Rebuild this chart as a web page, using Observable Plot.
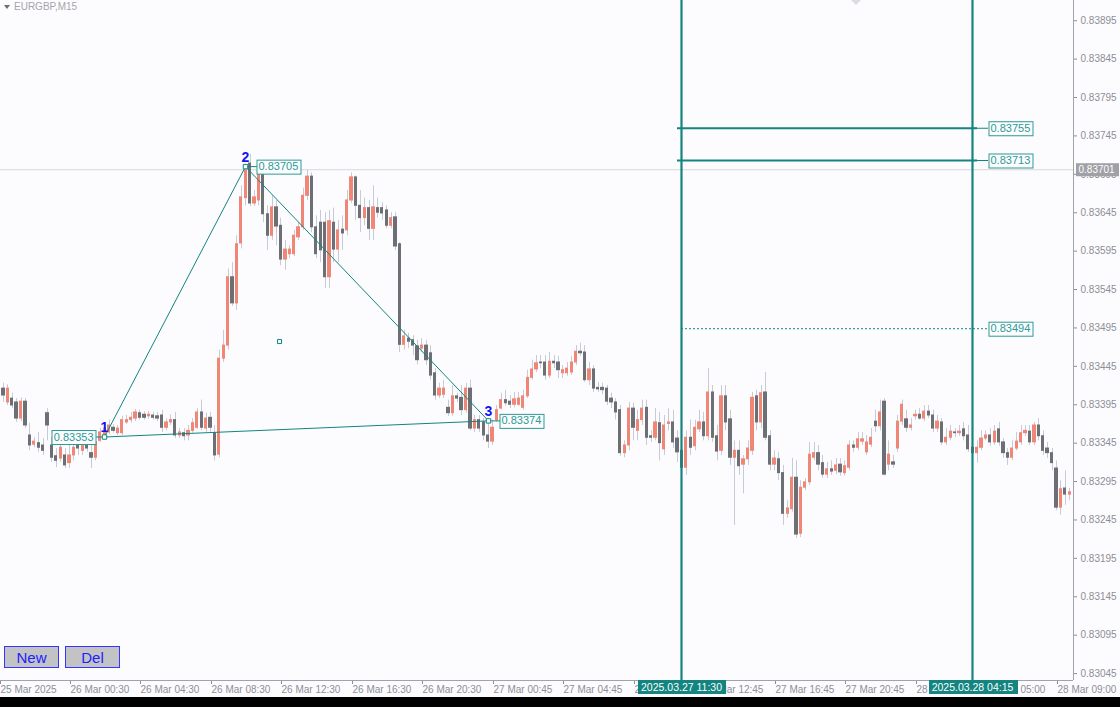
<!DOCTYPE html>
<html><head><meta charset="utf-8">
<script src="https://cdn.jsdelivr.net/npm/d3@7"></script>
<script src="https://cdn.jsdelivr.net/npm/@observablehq/plot@0.6"></script>
<style>
html,body{margin:0;padding:0;background:#000;width:1120px;height:707px;overflow:hidden}
#wrap{position:relative;width:1120px;height:697px;background:#fcfcfe}
#chart svg{display:block}
#title{position:absolute;left:4px;top:1px;font:10px "Liberation Sans",sans-serif;color:#a4a4ac;white-space:nowrap}
#title .tri{display:inline-block;width:0;height:0;border-left:3.5px solid transparent;border-right:3.5px solid transparent;border-top:4px solid #6c6c78;margin-right:4px;vertical-align:1px}
.btn{position:absolute;top:646px;height:20px;width:53px;background:#c3c3c6;border:1px solid #3535ff;color:#2020ff;font:15px "Liberation Sans",sans-serif;text-align:center;line-height:21px;box-sizing:content-box}
#topmark{position:absolute;left:851px;top:0;width:0;height:0;border-left:5px solid transparent;border-right:5px solid transparent;border-top:5px solid #dcdce4}
</style></head><body>
<div id="wrap">
  <div id="chart"></div>
  <div id="title"><span class="tri"></span><span id="sym"></span></div>
  <div class="btn" id="bNew" style="left:4px">New</div>
  <div class="btn" id="bDel" style="left:65px">Del</div>
  <div id="topmark"></div>
</div>
<script>
// ---------- data (M15 bars, index 0 = 26 Mar 00:30) ----------
const symbolName = "EURGBP,M15";
const buttonLabels = ["New", "Del"];
const firstBar = -15;
const open = [
0.83416,0.83398,0.83403,0.83398,0.83377,0.83399,0.83355,0.83343,0.83345,0.83342,
0.83384,0.83342,0.83328,0.83325,0.83329,0.83319,0.83329,0.83342,0.83335,0.83343,
0.83332,0.83326,0.83348,0.83355,0.83359,0.83365,0.83358,0.83358,0.83372,0.83375,
0.83377,0.83384,0.83382,0.83380,0.83381,0.83380,0.83381,0.83365,0.83372,0.83375,
0.83355,0.83358,0.83355,0.83361,0.83365,0.83385,0.83364,0.83378,0.83358,0.83330,
0.83455,0.83472,0.83561,0.83527,0.83605,0.83664,0.83709,0.83657,0.83661,0.83700,
0.83643,0.83615,0.83652,0.83628,0.83584,0.83591,0.83591,0.83613,0.83626,0.83667,
0.83692,0.83626,0.83632,0.83632,0.83561,0.83632,0.83597,0.83623,0.83622,0.83661,
0.83691,0.83654,0.83638,0.83651,0.83624,0.83651,0.83651,0.83648,0.83628,0.83639,
0.83604,0.83473,0.83481,0.83479,0.83471,0.83468,0.83472,0.83462,0.83436,0.83407,
0.83408,0.83391,0.83384,0.83406,0.83404,0.83388,0.83416,0.83364,0.83375,0.83372,
0.83355,0.83347,0.83375,0.83390,0.83401,0.83399,0.83395,0.83395,0.83391,0.83406,
0.83430,0.83441,0.83450,0.83450,0.83433,0.83451,0.83450,0.83436,0.83436,0.83437,
0.83450,0.83464,0.83463,0.83427,0.83441,0.83417,0.83417,0.83416,0.83403,0.83398,
0.83388,0.83332,0.83342,0.83390,0.83361,0.83375,0.83391,0.83354,0.83352,0.83371,
0.83337,0.83370,0.83372,0.83351,0.83335,0.83313,0.83352,0.83341,0.83363,0.83372,
0.83354,0.83411,0.83354,0.83335,0.83406,0.83376,0.83326,0.83335,0.83317,0.83324,
0.83335,0.83406,0.83372,0.83411,0.83354,0.83317,0.83324,0.83306,0.83253,0.83259,
0.83300,0.83227,0.83287,0.83294,0.83326,0.83332,0.83319,0.83304,0.83311,0.83309,
0.83317,0.83306,0.83313,0.83342,0.83339,0.83347,0.83333,0.83343,0.83373,0.83367,
0.83399,0.83317,0.83320,0.83338,0.83373,0.83376,0.83365,0.83380,0.83382,0.83377,
0.83386,0.83381,0.83364,0.83372,0.83346,0.83352,0.83359,0.83358,0.83363,0.83355,
0.83339,0.83332,0.83339,0.83351,0.83355,0.83346,0.83363,0.83346,0.83332,0.83326,
0.83338,0.83346,0.83358,0.83360,0.83346,0.83368,0.83354,0.83338,0.83332,0.83312,
0.83261,0.83286,0.83278];
const high = [
0.83423,0.83421,0.83410,0.83403,0.83404,0.83403,0.83371,0.83352,0.83359,0.83351,
0.83390,0.83352,0.83338,0.83348,0.83338,0.83342,0.83352,0.83348,0.83352,0.83348,
0.83348,0.83352,0.83364,0.83371,0.83375,0.83369,0.83368,0.83380,0.83381,0.83385,
0.83389,0.83388,0.83386,0.83386,0.83385,0.83385,0.83388,0.83377,0.83382,0.83385,
0.83364,0.83364,0.83368,0.83377,0.83390,0.83401,0.83384,0.83385,0.83368,0.83466,
0.83492,0.83572,0.83580,0.83615,0.83680,0.83705,0.83721,0.83674,0.83707,0.83703,
0.83654,0.83667,0.83661,0.83638,0.83609,0.83602,0.83622,0.83632,0.83677,0.83700,
0.83697,0.83641,0.83648,0.83645,0.83648,0.83651,0.83635,0.83641,0.83674,0.83697,
0.83693,0.83674,0.83664,0.83661,0.83680,0.83664,0.83658,0.83654,0.83645,0.83645,
0.83606,0.83492,0.83488,0.83485,0.83479,0.83481,0.83479,0.83472,0.83442,0.83423,
0.83427,0.83401,0.83420,0.83410,0.83420,0.83423,0.83427,0.83381,0.83381,0.83377,
0.83374,0.83375,0.83394,0.83410,0.83414,0.83407,0.83411,0.83411,0.83414,0.83440,
0.83453,0.83459,0.83459,0.83459,0.83463,0.83459,0.83458,0.83446,0.83450,0.83458,
0.83472,0.83475,0.83472,0.83450,0.83446,0.83424,0.83423,0.83420,0.83410,0.83403,
0.83394,0.83348,0.83398,0.83397,0.83388,0.83401,0.83401,0.83361,0.83390,0.83385,
0.83381,0.83390,0.83388,0.83361,0.83348,0.83361,0.83375,0.83375,0.83388,0.83385,
0.83442,0.83420,0.83368,0.83420,0.83420,0.83388,0.83348,0.83348,0.83329,0.83348,
0.83411,0.83414,0.83420,0.83437,0.83361,0.83335,0.83333,0.83316,0.83270,0.83325,
0.83322,0.83296,0.83299,0.83346,0.83346,0.83342,0.83329,0.83320,0.83322,0.83325,
0.83325,0.83322,0.83348,0.83348,0.83359,0.83359,0.83355,0.83364,0.83388,0.83401,
0.83403,0.83348,0.83329,0.83381,0.83401,0.83388,0.83377,0.83388,0.83390,0.83394,
0.83394,0.83388,0.83381,0.83377,0.83364,0.83368,0.83364,0.83368,0.83372,0.83368,
0.83348,0.83348,0.83361,0.83361,0.83364,0.83368,0.83372,0.83351,0.83338,0.83348,
0.83359,0.83368,0.83368,0.83368,0.83372,0.83377,0.83361,0.83346,0.83338,0.83322,
0.83296,0.83309,0.83286];
const low = [
0.83398,0.83394,0.83390,0.83372,0.83373,0.83364,0.83335,0.83339,0.83333,0.83329,
0.83348,0.83320,0.83313,0.83320,0.83312,0.83312,0.83322,0.83329,0.83329,0.83333,
0.83312,0.83322,0.83346,0.83353,0.83356,0.83358,0.83355,0.83355,0.83369,0.83371,
0.83373,0.83375,0.83375,0.83376,0.83375,0.83373,0.83359,0.83361,0.83368,0.83351,
0.83351,0.83348,0.83348,0.83358,0.83363,0.83361,0.83359,0.83359,0.83322,0.83326,
0.83450,0.83466,0.83523,0.83518,0.83598,0.83654,0.83653,0.83653,0.83654,0.83632,
0.83596,0.83609,0.83602,0.83576,0.83570,0.83585,0.83588,0.83609,0.83622,0.83661,
0.83619,0.83585,0.83580,0.83546,0.83546,0.83580,0.83580,0.83596,0.83615,0.83657,
0.83635,0.83619,0.83628,0.83609,0.83609,0.83638,0.83635,0.83624,0.83624,0.83596,
0.83463,0.83466,0.83468,0.83459,0.83447,0.83463,0.83446,0.83427,0.83401,0.83403,
0.83403,0.83380,0.83380,0.83398,0.83381,0.83384,0.83361,0.83359,0.83359,0.83348,
0.83338,0.83342,0.83372,0.83388,0.83393,0.83390,0.83391,0.83393,0.83388,0.83403,
0.83427,0.83437,0.83442,0.83427,0.83429,0.83442,0.83429,0.83429,0.83432,0.83433,
0.83446,0.83458,0.83424,0.83420,0.83411,0.83411,0.83408,0.83394,0.83390,0.83375,
0.83328,0.83326,0.83335,0.83348,0.83348,0.83368,0.83342,0.83346,0.83348,0.83322,
0.83329,0.83361,0.83338,0.83320,0.83309,0.83303,0.83329,0.83335,0.83359,0.83348,
0.83348,0.83346,0.83322,0.83329,0.83361,0.83316,0.83238,0.83303,0.83279,0.83316,
0.83329,0.83361,0.83364,0.83348,0.83309,0.83309,0.83296,0.83238,0.83247,0.83255,
0.83221,0.83222,0.83283,0.83290,0.83322,0.83309,0.83299,0.83299,0.83303,0.83304,
0.83302,0.83302,0.83309,0.83333,0.83335,0.83342,0.83329,0.83339,0.83359,0.83361,
0.83302,0.83309,0.83312,0.83333,0.83368,0.83359,0.83361,0.83375,0.83375,0.83373,
0.83377,0.83359,0.83359,0.83342,0.83342,0.83348,0.83352,0.83354,0.83348,0.83333,
0.83322,0.83319,0.83335,0.83348,0.83341,0.83342,0.83341,0.83325,0.83316,0.83322,
0.83335,0.83342,0.83354,0.83342,0.83342,0.83348,0.83329,0.83325,0.83309,0.83257,
0.83251,0.83264,0.83270];
const close = [
0.83407,0.83416,0.83394,0.83377,0.83399,0.83368,0.83342,0.83347,0.83339,0.83335,
0.83368,0.83326,0.83322,0.83339,0.83316,0.83329,0.83339,0.83338,0.83345,0.83338,
0.83326,0.83346,0.83359,0.83364,0.83368,0.83361,0.83364,0.83375,0.83375,0.83378,
0.83385,0.83378,0.83378,0.83382,0.83378,0.83377,0.83365,0.83372,0.83375,0.83355,
0.83359,0.83354,0.83361,0.83371,0.83385,0.83365,0.83377,0.83365,0.83329,0.83455,
0.83472,0.83561,0.83527,0.83604,0.83665,0.83700,0.83657,0.83665,0.83703,0.83643,
0.83615,0.83652,0.83627,0.83584,0.83597,0.83597,0.83615,0.83626,0.83667,0.83692,
0.83626,0.83591,0.83596,0.83561,0.83634,0.83597,0.83622,0.83618,0.83661,0.83691,
0.83654,0.83638,0.83651,0.83624,0.83652,0.83645,0.83644,0.83628,0.83638,0.83601,
0.83473,0.83484,0.83477,0.83472,0.83453,0.83472,0.83453,0.83433,0.83407,0.83416,
0.83416,0.83384,0.83406,0.83403,0.83388,0.83416,0.83364,0.83375,0.83364,0.83355,
0.83347,0.83365,0.83388,0.83401,0.83397,0.83395,0.83402,0.83403,0.83406,0.83430,
0.83441,0.83449,0.83449,0.83433,0.83451,0.83449,0.83440,0.83440,0.83442,0.83450,
0.83464,0.83462,0.83427,0.83441,0.83416,0.83415,0.83414,0.83399,0.83398,0.83385,
0.83332,0.83342,0.83390,0.83365,0.83375,0.83390,0.83352,0.83352,0.83372,0.83345,
0.83368,0.83372,0.83346,0.83333,0.83313,0.83352,0.83339,0.83365,0.83372,0.83354,
0.83411,0.83352,0.83334,0.83406,0.83372,0.83326,0.83335,0.83315,0.83324,0.83338,
0.83404,0.83372,0.83410,0.83352,0.83317,0.83325,0.83306,0.83253,0.83260,0.83300,
0.83226,0.83287,0.83294,0.83330,0.83332,0.83317,0.83304,0.83311,0.83308,0.83316,
0.83307,0.83315,0.83342,0.83339,0.83350,0.83350,0.83346,0.83352,0.83367,0.83385,
0.83304,0.83330,0.83317,0.83373,0.83395,0.83365,0.83368,0.83382,0.83377,0.83386,
0.83381,0.83364,0.83373,0.83346,0.83352,0.83360,0.83358,0.83360,0.83354,0.83337,
0.83332,0.83339,0.83351,0.83355,0.83346,0.83360,0.83346,0.83332,0.83326,0.83338,
0.83347,0.83358,0.83361,0.83346,0.83368,0.83354,0.83335,0.83332,0.83319,0.83261,
0.83285,0.83278,0.83281];

const timeTicks = [-16,0,16,32,48,64,80,96,112,128,144,160,176,192,208,224];
const timeLabels = ["25 Mar 2025","26 Mar 00:30","26 Mar 04:30","26 Mar 08:30","26 Mar 12:30","26 Mar 16:30","26 Mar 20:30","27 Mar 00:45","27 Mar 04:45","27 Mar 08:45","27 Mar 12:45","27 Mar 16:45","27 Mar 20:45","28 Mar 00:45","28 Mar 05:00","28 Mar 09:00"];
const priceTicks = [0.83045,0.83095,0.83145,0.83195,0.83245,0.83295,0.83345,0.83395,0.83445,0.83495,0.83545,0.83595,0.83645,0.83695,0.83745,0.83795,0.83845,0.83895];
const currentPrice = 0.83701;
const vLines = [139, 205];
const vLineLabels = ["2025.03.27 11:30", "2025.03.28 04:15"];
const solidLevels = [0.83755, 0.83713];
const dashedLevels = [0.83494];
const zzIdx = [8, 40, 95];
const zzPrice = [0.83353, 0.83705, 0.83374];
const zzName = ["1", "2", "3"];

// ---------- build ----------
document.getElementById("sym").textContent = symbolName;
document.getElementById("bNew").textContent = buttonLabels[0];
document.getElementById("bDel").textContent = buttonLabels[1];

const UP = "#ef8676", DOWN = "#6c6f74", WICK = "#c9cad8";
const TEAL = "#13847f", TEAL_L = "#2c9a97";
const fmt = d3.format(".5f");
const bars = open.map((o, k) => ({i: k + firstBar, open: o, high: high[k], low: low[k], close: close[k]}));
const zz = zzIdx.map((i, k) => ({i, p: zzPrice[k], n: zzName[k]}));
const centroid = {i: d3.mean(zzIdx), p: d3.mean(zzPrice)};
const vl = vLines.map((i, k) => ({i, t: vLineLabels[k]}));
const xDomain = [-16, 227.9];
const yDomain = [0.83036, 0.839213];

const chart = Plot.plot({
  width: 1120, height: 697,
  marginTop: 0, marginBottom: 17, marginLeft: 0, marginRight: 47,
  style: {background: "#fcfcfe", fontFamily: "'Liberation Sans', Arial, sans-serif", fontSize: "10px", overflow: "visible"},
  x: {domain: xDomain, range: [-1.5, 1073.1], round: true},
  y: {domain: yDomain},
  marks: [
    Plot.ruleY([currentPrice], {stroke: "#d8d8de", strokeWidth: 1}),
    Plot.axisY({anchor: "right", ticks: priceTicks, tickFormat: fmt, tickSize: 3, tickPadding: 4, color: "#8e8e96", fontSize: 10, label: null}),
    Plot.axisX({anchor: "bottom", ticks: timeTicks, tickFormat: d => timeLabels[timeTicks.indexOf(d)], tickSize: 4, tickPadding: 1, textAnchor: "start", dx: 1, color: "#8e8e96", fontSize: 10, label: null}),
    Plot.ruleX([xDomain[1]], {stroke: "#a2a2aa"}),
    Plot.ruleY([yDomain[0]], {stroke: "#a2a2aa"}),
    Plot.ruleX(bars, {x: "i", y1: "low", y2: "high", stroke: WICK, strokeWidth: 1}),
    Plot.rect(bars, {x1: d => d.i - 0.37, x2: d => d.i + 0.37, y1: "open", y2: "close",
      fill: d => d.close >= d.open ? UP : DOWN, insetTop: -0.5, insetBottom: -0.5}),
    Plot.ruleX(vLines, {stroke: TEAL, strokeWidth: 2.2}),
    Plot.ruleY(solidLevels, {x1: () => vLines[0], x2: () => vLines[1], stroke: TEAL, strokeWidth: 2.2, insetLeft: -4, insetRight: -5}),
    Plot.ruleY(solidLevels, {x1: () => vLines[1], x2: () => vLines[1], stroke: TEAL, strokeWidth: 1, insetRight: -16}),
    Plot.ruleY(dashedLevels, {x1: () => vLines[0], x2: () => vLines[1], stroke: TEAL, strokeWidth: 1, strokeDasharray: "2,2", insetRight: -16}),
    Plot.line([...zz, zz[0]], {x: "i", y: "p", stroke: TEAL, strokeWidth: 1, curve: "linear"}),
    Plot.ruleY(zz.slice(0, 1), {y: "p", x1: "i", x2: "i", stroke: TEAL, insetLeft: -11}),
    Plot.ruleY(zz.slice(1), {y: "p", x1: "i", x2: "i", stroke: TEAL, insetRight: -12}),
    Plot.dot(zz, {x: "i", y: "p", symbol: "square", r: 2.5, stroke: TEAL, fill: "#fcfcfe", strokeWidth: 1}),
    Plot.dot([centroid], {x: "i", y: "p", symbol: "square", r: 2.3, stroke: TEAL, fill: "#fcfcfe", strokeWidth: 1}),
    Plot.text(solidLevels.concat(dashedLevels), {x: () => vLines[1], y: d => d, text: d => fmt(d), dx: 18, textAnchor: "start", fill: TEAL_L, fontSize: 11}),
    Plot.text(zz.slice(0, 1), {x: "i", y: "p", text: d => fmt(d.p), dx: -11, textAnchor: "end", fill: TEAL_L, fontSize: 11}),
    Plot.text(zz.slice(1), {x: "i", y: "p", text: d => fmt(d.p), dx: 13, textAnchor: "start", fill: TEAL_L, fontSize: 11}),
    Plot.text(zz, {x: "i", y: "p", text: "n", dy: -9, fill: "#1414f2", fontWeight: "bold", fontSize: 14}),
    Plot.text(vl, {x: "i", text: "t", frameAnchor: "bottom", dy: 10, fill: "#ffffff", fontSize: 10.5}),
    Plot.text([currentPrice], {y: d => d, text: d => fmt(d), frameAnchor: "right", dx: 5, textAnchor: "start", fill: "#ffffff", fontSize: 10})
  ]
});
document.getElementById("chart").append(chart);

// boxes behind annotation labels (sized from the rendered text)
const outlined = new Set([...solidLevels, ...dashedLevels, ...zzPrice].map(fmt));
const teal = new Set(vLineLabels);
const gray = new Set([fmt(currentPrice)]);
chart.querySelectorAll("text").forEach(t => {
  const s = t.textContent;
  let st = null;
  if (outlined.has(s)) st = {fill: "#fcfcfe", stroke: TEAL_L, px: 2, py: 0.5};
  else if (teal.has(s)) st = {fill: TEAL, stroke: "none", px: 3, py: 0.5};
  else if (gray.has(s)) st = {fill: "#a0a0a6", stroke: "none", px: 3, py: 0.5};
  if (!st) return;
  const b = t.getBBox();
  const r = document.createElementNS("http://www.w3.org/2000/svg", "rect");
  const x0 = Math.floor(b.x - st.px) + 0.5, y0 = Math.floor(b.y - st.py) + 0.5;
  r.setAttribute("x", x0);
  r.setAttribute("y", y0);
  r.setAttribute("width", Math.ceil(b.x + b.width + st.px) - Math.floor(b.x - st.px));
  r.setAttribute("height", Math.ceil(b.y + b.height + st.py) - Math.floor(b.y - st.py));
  r.setAttribute("fill", st.fill);
  r.setAttribute("stroke", st.stroke);
  r.setAttribute("stroke-width", 1);
  const tr = t.getAttribute("transform");
  if (tr) r.setAttribute("transform", tr);
  t.parentNode.insertBefore(r, t);
});
</script>
</body></html>
